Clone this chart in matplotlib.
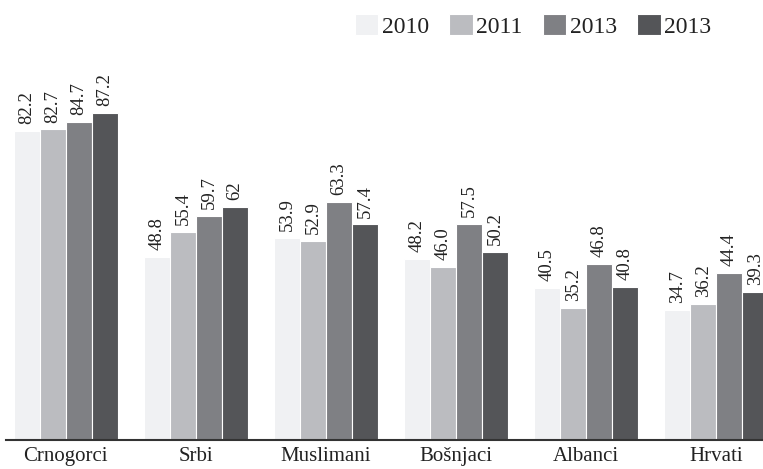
import matplotlib
matplotlib.use("Agg")
import matplotlib.pyplot as plt
import numpy as np

categories = ["Crnogorci", "Srbi", "Muslimani", "Bošnjaci", "Albanci", "Hrvati"]
series_names = ["2010", "2011", "2013", "2013"]
v2010 = [82.2, 48.8, 53.9, 48.2, 40.5, 34.7]
v2011 = [82.7, 55.4, 52.9, 46.0, 35.2, 36.2]
v2013a = [84.7, 59.7, 63.3, 57.5, 46.8, 44.4]
v2013b = [87.2, 62, 57.4, 50.2, 40.8, 39.3]
series = [v2010, v2011, v2013a, v2013b]
colors = ["#f0f1f3", "#bbbcc0", "#7f8084", "#545558"]

plt.rcParams['font.family'] = ['Liberation Serif', 'DejaVu Serif']

W, H = 763, 469
fig = plt.figure(figsize=(W / 100, H / 100), dpi=100)
ax = fig.add_axes([6 / W, 29 / H, 1 - 6 / W, 380 / H])

x = np.arange(len(categories))
bw = 0.2
for i, (vals, c, name) in enumerate(zip(series, colors, series_names)):
    pos = x + (i - 1.5) * bw
    ax.bar(pos, vals, width=bw, color=c, edgecolor="white", linewidth=0.8, label=name)
    for p, v in zip(pos, vals):
        ax.annotate(str(v), (p, v), xytext=(0, 5), textcoords="offset points",
                    rotation=90, ha="center", va="bottom", fontsize=13.5, color="#222222")

ax.set_xlim(-0.46, 5.36)
ax.set_ylim(0, 101.2)
ax.set_xticks(x)
ax.set_xticklabels(categories, fontsize=15, color="#222222")
ax.tick_params(axis="x", length=0, pad=5)
ax.set_yticks([])
for s in ["top", "right", "left"]:
    ax.spines[s].set_visible(False)
ax.spines["bottom"].set_linewidth(1.5)
ax.spines["bottom"].set_color("#333333")

handles, labels = ax.get_legend_handles_labels()
fig.legend(handles, labels, loc="center left", bbox_to_anchor=(343 / W, 1 - 26 / H),
           ncol=4, frameon=False, fontsize=17, handlelength=1.0, handleheight=1.0,
           handletextpad=0.15, columnspacing=0.85, borderpad=0, labelcolor="#222222")

fig.savefig("out.png", dpi=100)
